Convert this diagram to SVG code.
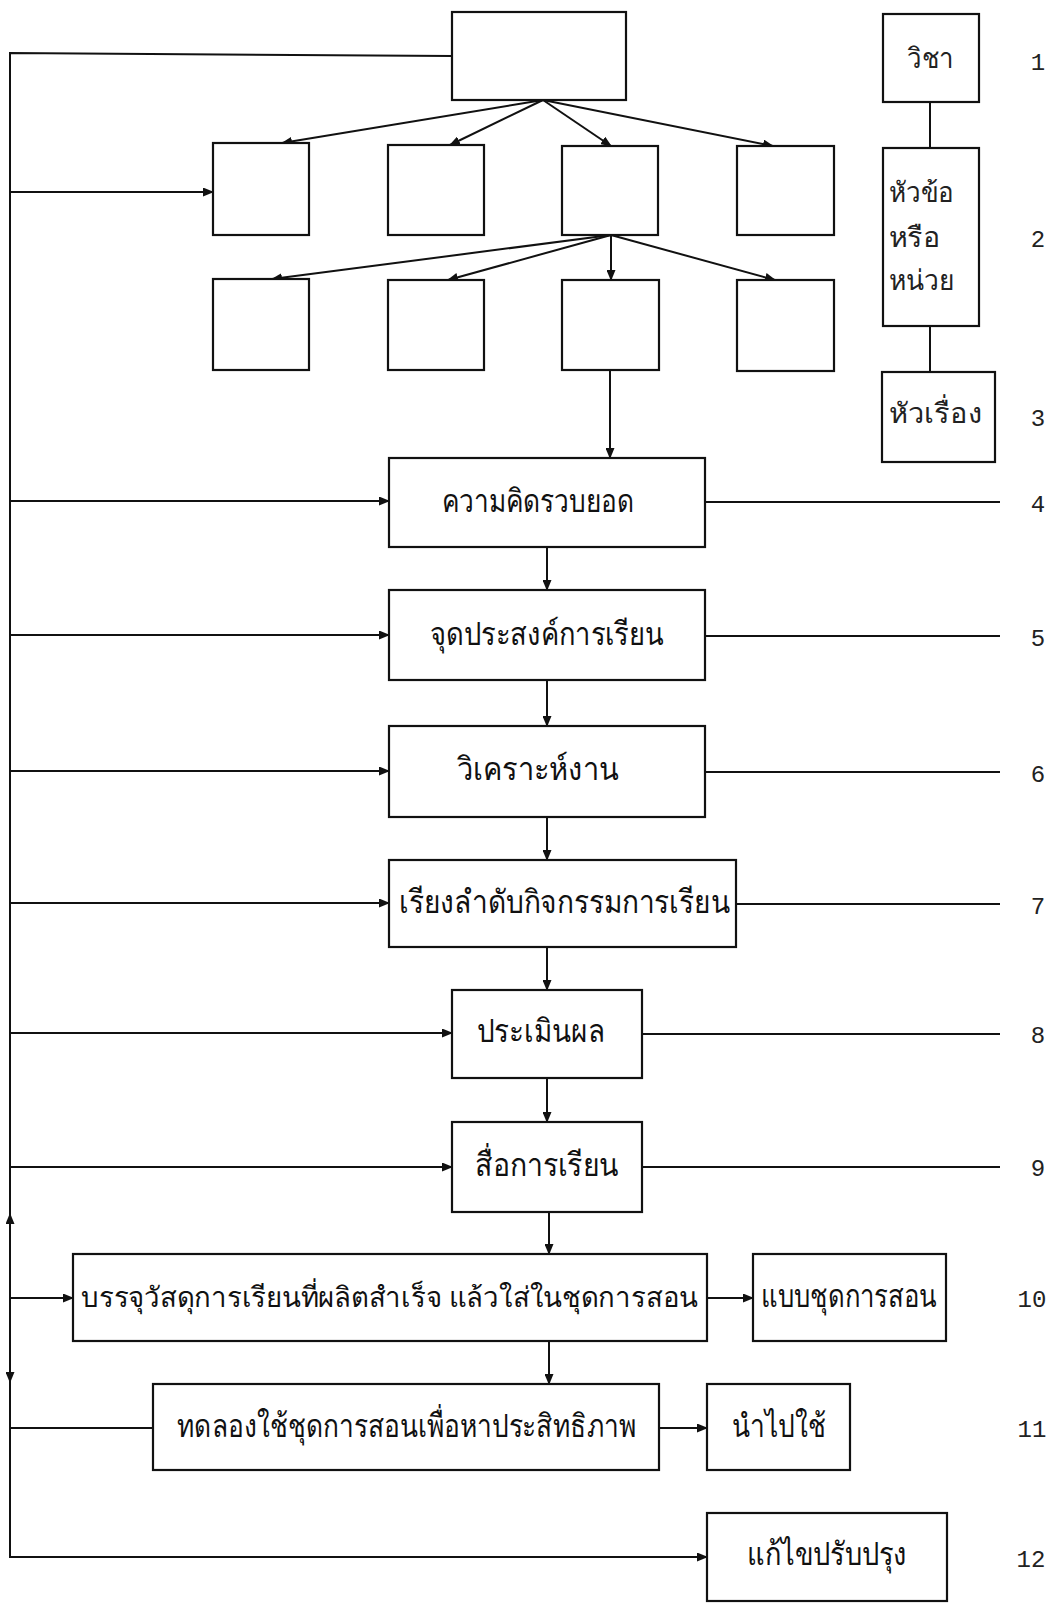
<svg xmlns="http://www.w3.org/2000/svg" width="1055" height="1603" viewBox="0 0 1055 1603">
<style>
.box{fill:#fff;stroke:#111;stroke-width:2.2}
.ln{fill:none;stroke:#111;stroke-width:2}
.arr{fill:none;stroke:#111;stroke-width:2;marker-end:url(#ah)}
.t{font-family:"Noto Sans","DejaVu Sans",sans-serif;font-size:32px;fill:#111;text-anchor:start}
.s{font-family:"Noto Sans","DejaVu Sans",sans-serif;font-size:28px;fill:#222}
.n{font-family:"Liberation Mono",monospace;font-size:24px;fill:#222;text-anchor:middle}
</style>
<defs>
<marker id="ah" markerUnits="userSpaceOnUse" markerWidth="11" markerHeight="9" refX="10" refY="4.5" orient="auto">
<path d="M0,0 L11,4.5 L0,9 z" fill="#111"/>
</marker>
</defs>
<rect width="1055" height="1603" fill="#fff"/>
<g id="connectors">
<polyline class="ln" points="452,56 10,53 10,1557 697,1557"/>
<line class="arr" x1="697" y1="1557" x2="707" y2="1557"/>
<line class="arr" x1="10" y1="192" x2="213" y2="192"/>
<line class="arr" x1="543" y1="100" x2="282" y2="143"/>
<line class="arr" x1="543" y1="100" x2="450" y2="145"/>
<line class="arr" x1="543" y1="100" x2="611" y2="146"/>
<line class="arr" x1="543" y1="100" x2="773" y2="146"/>
<line class="arr" x1="611" y1="235" x2="272" y2="279"/>
<line class="arr" x1="611" y1="235" x2="448" y2="280"/>
<line class="arr" x1="611" y1="235" x2="611" y2="280"/>
<line class="arr" x1="611" y1="235" x2="775" y2="280"/>
<line class="arr" x1="610" y1="370" x2="610" y2="458"/>
<line class="ln" x1="930" y1="102" x2="930" y2="148"/>
<line class="ln" x1="930" y1="326" x2="930" y2="372"/>
<line class="arr" x1="10" y1="501" x2="389" y2="501"/>
<line class="arr" x1="10" y1="635" x2="389" y2="635"/>
<line class="arr" x1="10" y1="771" x2="389" y2="771"/>
<line class="arr" x1="10" y1="903" x2="389" y2="903"/>
<line class="arr" x1="10" y1="1033" x2="452" y2="1033"/>
<line class="arr" x1="10" y1="1167" x2="452" y2="1167"/>
<line class="arr" x1="10" y1="1298" x2="73" y2="1298"/>
<line class="ln" x1="10" y1="1428" x2="153" y2="1428"/>
<line class="ln" x1="705" y1="502" x2="1000" y2="502"/>
<line class="ln" x1="705" y1="636" x2="1000" y2="636"/>
<line class="ln" x1="705" y1="772" x2="1000" y2="772"/>
<line class="ln" x1="736" y1="904" x2="1000" y2="904"/>
<line class="ln" x1="642" y1="1034" x2="1000" y2="1034"/>
<line class="ln" x1="642" y1="1167" x2="1000" y2="1167"/>
<line class="arr" x1="547" y1="547" x2="547" y2="590"/>
<line class="arr" x1="547" y1="680" x2="547" y2="726"/>
<line class="arr" x1="547" y1="817" x2="547" y2="860"/>
<line class="arr" x1="547" y1="947" x2="547" y2="990"/>
<line class="arr" x1="547" y1="1078" x2="547" y2="1122"/>
<line class="arr" x1="549" y1="1212" x2="549" y2="1254"/>
<line class="arr" x1="549" y1="1341" x2="549" y2="1384"/>
<line class="arr" x1="707" y1="1298" x2="753" y2="1298"/>
<line class="arr" x1="659" y1="1428" x2="707" y2="1428"/>
<line class="arr" x1="10" y1="1240" x2="10" y2="1214"/>
<line class="arr" x1="10" y1="1360" x2="10" y2="1382"/>
</g>
<g id="n-top"><rect class="box" x="452" y="12" width="174" height="88"/></g>
<g id="n-r1a"><rect class="box" x="213" y="143" width="96" height="92"/></g>
<g id="n-r1b"><rect class="box" x="388" y="145" width="96" height="90"/></g>
<g id="n-r1c"><rect class="box" x="562" y="146" width="96" height="89"/></g>
<g id="n-r1d"><rect class="box" x="737" y="146" width="97" height="89"/></g>
<g id="n-r2a"><rect class="box" x="213" y="279" width="96" height="91"/></g>
<g id="n-r2b"><rect class="box" x="388" y="280" width="96" height="90"/></g>
<g id="n-r2c"><rect class="box" x="562" y="280" width="97" height="90"/></g>
<g id="n-r2d"><rect class="box" x="737" y="280" width="97" height="91"/></g>
<g id="n-wicha"><rect class="box" x="883" y="14" width="96" height="88"/><text class="s" x="907" y="68" textLength="47" lengthAdjust="spacingAndGlyphs">วิชา</text></g>
<g id="n-huakho"><rect class="box" x="883" y="148" width="96" height="178"/>
<text class="s" x="889" y="202" textLength="65" lengthAdjust="spacingAndGlyphs">หัวข้อ</text>
<text class="s" x="889" y="247" textLength="51" lengthAdjust="spacingAndGlyphs">หรือ</text>
<text class="s" x="889" y="290" textLength="65" lengthAdjust="spacingAndGlyphs">หน่วย</text></g>
<g id="n-huarueang"><rect class="box" x="882" y="372" width="113" height="90"/><text class="s" x="889" y="423" textLength="93" lengthAdjust="spacingAndGlyphs">หัวเรื่อง</text></g>
<g id="n4"><rect class="box" x="389" y="458" width="316" height="89"/><text class="t" x="442" y="512" textLength="192" lengthAdjust="spacingAndGlyphs">ความคิดรวบยอด</text></g>
<g id="n5"><rect class="box" x="389" y="590" width="316" height="90"/><text class="t" x="430" y="645" textLength="234" lengthAdjust="spacingAndGlyphs">จุดประสงค์การเรียน</text></g>
<g id="n6"><rect class="box" x="389" y="726" width="316" height="91"/><text class="t" x="457" y="780" textLength="162" lengthAdjust="spacingAndGlyphs">วิเคราะห์งาน</text></g>
<g id="n7"><rect class="box" x="389" y="860" width="347" height="87"/><text class="t" x="399" y="913" textLength="331" lengthAdjust="spacingAndGlyphs">เรียงลำดับกิจกรรมการเรียน</text></g>
<g id="n8"><rect class="box" x="452" y="990" width="190" height="88"/><text class="t" x="477" y="1042" textLength="128" lengthAdjust="spacingAndGlyphs">ประเมินผล</text></g>
<g id="n9"><rect class="box" x="452" y="1122" width="190" height="90"/><text class="t" x="475" y="1176" textLength="144" lengthAdjust="spacingAndGlyphs">สื่อการเรียน</text></g>
<g id="n10"><rect class="box" x="73" y="1254" width="634" height="87"/><text class="t" x="81" y="1307" style="font-size:28px" textLength="617" lengthAdjust="spacingAndGlyphs">บรรจุวัสดุการเรียนที่ผลิตสำเร็จ แล้วใส่ในชุดการสอน</text></g>
<g id="n10b"><rect class="box" x="753" y="1254" width="193" height="87"/><text class="t" x="761" y="1307" textLength="176" lengthAdjust="spacingAndGlyphs">แบบชุดการสอน</text></g>
<g id="n11"><rect class="box" x="153" y="1384" width="506" height="86"/><text class="t" x="177" y="1437" textLength="459" lengthAdjust="spacingAndGlyphs">ทดลองใช้ชุดการสอนเพื่อหาประสิทธิภาพ</text></g>
<g id="n11b"><rect class="box" x="707" y="1384" width="143" height="86"/><text class="t" x="732" y="1437" textLength="94" lengthAdjust="spacingAndGlyphs">นำไปใช้</text></g>
<g id="n12"><rect class="box" x="707" y="1513" width="240" height="88"/><text class="t" x="747" y="1565" textLength="160" lengthAdjust="spacingAndGlyphs">แก้ไขปรับปรุง</text></g>
<g id="numbers">
<text class="n" x="1038" y="70">1</text>
<text class="n" x="1038" y="247">2</text>
<text class="n" x="1038" y="426">3</text>
<text class="n" x="1038" y="512">4</text>
<text class="n" x="1038" y="646">5</text>
<text class="n" x="1038" y="782">6</text>
<text class="n" x="1038" y="914">7</text>
<text class="n" x="1038" y="1043">8</text>
<text class="n" x="1038" y="1176">9</text>
<text class="n" x="1032" y="1307">10</text>
<text class="n" x="1032" y="1437">11</text>
<text class="n" x="1031" y="1567">12</text>
</g>
</svg>
